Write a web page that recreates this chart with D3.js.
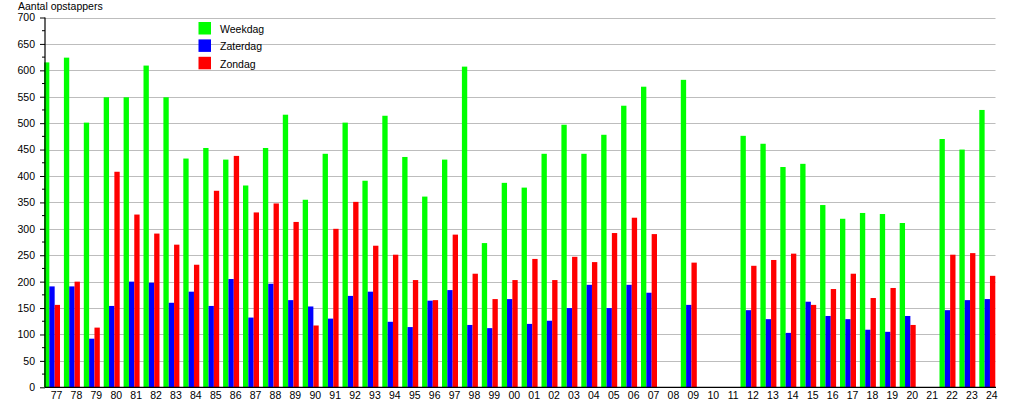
<!DOCTYPE html>
<html>
<head>
<meta charset="utf-8">
<script src="https://cdn.jsdelivr.net/npm/d3@7"></script>
<style>
  html, body { margin: 0; padding: 0; background: #fff; }
  svg { display: block; font-family: "Liberation Sans", Arial, sans-serif; }
</style>
</head>
<body>
<svg id="chart" width="1015" height="400"></svg>
<script>
const years = ["77","78","79","80","81","82","83","84","85","86","87","88","89","90","91","92","93","94","95","96","97","98","99",
  "00","01","02","03","04","05","06","07","08","09","10","11","12","13","14","15","16","17","18","19","20","21","22","23","24"];
const weekdag = [615,624,501,549,549,609,549,433,453,431,382,453,516,355,442,501,391,514,436,361,431,607,273,
  387,378,442,497,442,478,533,569,null,582,null,null,476,461,417,423,345,319,330,328,311,null,470,450,525];
const zaterdag = [191,191,92,154,200,198,160,181,154,205,132,196,165,153,130,173,181,124,114,164,184,118,112,
  167,120,126,150,194,150,194,179,null,156,null,null,146,129,103,162,135,129,109,105,135,null,146,165,167];
const zondag = [156,200,113,408,327,291,270,232,372,438,331,348,313,117,300,351,268,251,203,165,289,215,167,
  203,243,203,247,237,292,321,290,null,236,null,null,230,241,253,156,186,215,169,188,118,null,251,254,211];
const seriesNames = ["Weekdag","Zaterdag","Zondag"];
const seriesColors = ["#00ff00","#0000ff","#ff0000"];
const yMajorTicks = [0,50,100,150,200,250,300,350,400,450,500,550,600,650,700];
const yMinorTicks = [25,75,125,175,225,275,325,375,425,475,525,575,625,675];
const yTitle = "Aantal opstappers";

(function () {
const svg = d3.select("#chart");
const pLeft = 45, pRight = 995.5, pTop = 17.5, pBottom = 387.3;

const x = d3.scaleBand().domain(years).range([44, 44 + 48 * 19.9]).padding(0);
const y = d3.scaleLinear().domain([0, 700]).range([pBottom, pTop]);
const barW = 16 / 3;
const allSeries = [weekdag, zaterdag, zondag];

// gridlines
svg.append("g").selectAll("line").data(yMajorTicks.filter(d => d > 0)).join("line")
  .attr("x1", pLeft).attr("x2", pRight)
  .attr("y1", d => Math.round(y(d)) + 0.5).attr("y2", d => Math.round(y(d)) + 0.5)
  .attr("stroke", "#bdbdbd").attr("stroke-width", 1);

// bars
allSeries.forEach((vals, si) => {
  svg.append("g").selectAll("rect")
    .data(years.map((yr, i) => ({yr, v: vals[i]})).filter(d => d.v !== null))
    .join("rect")
    .attr("x", d => x(d.yr) + si * barW)
    .attr("width", barW)
    .attr("y", d => y(d.v))
    .attr("height", d => y(0) - y(d.v))
    .attr("fill", seriesColors[si]);
});

// y axis
const yAxis = d3.axisLeft(y).tickValues(yMajorTicks).tickSize(5).tickPadding(5).tickFormat(d3.format("d"));
const gy = svg.append("g").attr("transform", `translate(${pLeft},0)`).call(yAxis);
gy.select(".domain").remove();
gy.selectAll(".tick line").attr("stroke", "#000");
gy.selectAll(".tick text").attr("font-size", "10.5px").attr("fill", "#000")
  .attr("font-family", "Liberation Sans, Arial, sans-serif");
svg.append("g").selectAll("line").data(yMinorTicks).join("line")
  .attr("x1", pLeft - 3).attr("x2", pLeft)
  .attr("y1", d => y(d)).attr("y2", d => y(d))
  .attr("stroke", "#000");

// x axis
const xAxis = d3.axisBottom(x).tickSize(0).tickPadding(4);
const gx = svg.append("g").attr("transform", `translate(0,${pBottom})`).call(xAxis);
gx.select(".domain").remove();
gx.selectAll(".tick text").attr("font-size", "10.5px").attr("fill", "#000")
  .attr("font-family", "Liberation Sans, Arial, sans-serif")
  .attr("dx", 2.6);

// axis lines
svg.append("line").attr("x1", pLeft).attr("x2", pLeft).attr("y1", pTop).attr("y2", pBottom)
  .attr("stroke", "#000").attr("stroke-width", 1.2);
svg.append("line").attr("x1", pLeft).attr("x2", 996).attr("y1", pBottom).attr("y2", pBottom)
  .attr("stroke", "#000").attr("stroke-width", 1.2);

// title
svg.append("text").attr("x", 18).attr("y", 10).attr("font-size", "10.5px").attr("fill", "#000").text(yTitle);

// legend
const lg = svg.append("g");
seriesNames.forEach((name, i) => {
  lg.append("rect").attr("x", 198.5).attr("y", 22 + i * 17.4).attr("width", 12.5).attr("height", 12.5)
    .attr("fill", seriesColors[i]);
  lg.append("text").attr("x", 220).attr("y", 33 + i * 17.4).attr("font-size", "10.5px").attr("fill", "#000").text(name);
});
})();
</script>
</body>
</html>
